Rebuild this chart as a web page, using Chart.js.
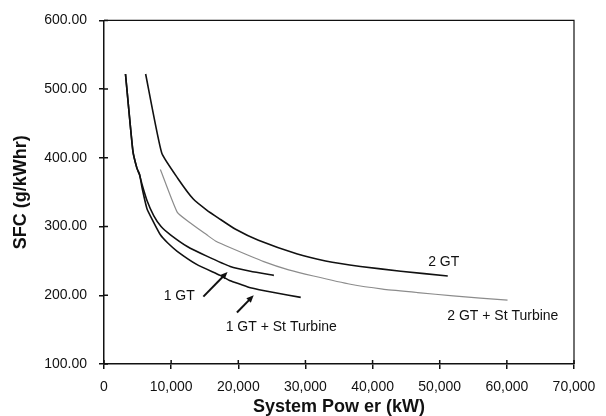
<!DOCTYPE html>
<html>
<head>
<meta charset="utf-8">
<script src="https://cdn.jsdelivr.net/npm/chart.js@4.4.0/dist/chart.umd.min.js"></script>
<style>
  body { margin: 0; background: #fff; }
</style>
</head>
<body>
<canvas id="sfcChart" width="606" height="416"></canvas>
<script>
// curves (kW, g/kWhr)
const gt1X = [3200, 4300, 4900, 5300, 5700, 6400, 7400, 8500, 9900, 12400, 15300, 18800, 21800, 25300]
const gt1Y = [522, 410, 385, 375, 360, 338, 316, 300, 288, 271, 257, 242, 235, 229]

const gt1StX = [3200, 4300, 4900, 5300, 5700, 6400, 7300, 8400, 9500, 10900, 13800, 17300, 18800, 20300, 21800, 25300, 29300]
const gt1StY = [522, 410, 385, 376, 355, 326, 308, 288, 276, 264, 245, 229, 221, 216, 211, 204, 197]

const gt2X = [6200, 8600, 11000, 13300, 15300, 17100, 19600, 23000, 28800, 33000, 38200, 44200, 51200]
const gt2Y = [522, 407, 370, 340, 324, 312, 296, 280, 260, 250, 242, 235, 228]

const gt2StX = [8400, 10900, 12600, 15300, 16600, 19100, 23800, 27500, 31200, 36700, 41500, 46700, 52000, 60100]
const gt2StY = [383, 321, 307, 288, 279, 268, 249, 237, 228, 216, 209, 204, 199, 193]

// curve labels and arrows (data units)
const noteText = ['2 GT', '2 GT + St Turbine', '1 GT', '1 GT + St Turbine']
const noteX = [50600, 59400, 11200, 26400]
const noteY = [248, 170, 199, 153]
const arrowFromX = [14800, 19800]
const arrowFromY = [198, 175]
const arrowToX = [18400, 22300]
const arrowToY = [234, 200]

const FONT = '"Liberation Sans", Arial, Helvetica, sans-serif'

function pts(xs, ys) {
    return xs.map((x, i) => ({ x: x, y: ys[i] }))
}

// box round the plot, inner tick marks, labels and arrows
const extras = {
    id: 'extras',
    afterDraw(chart) {
        const ctx = chart.ctx
        const a = chart.chartArea
        const xs = chart.scales.x
        const ys = chart.scales.y
        ctx.save()
        ctx.strokeStyle = '#111'
        ctx.lineWidth = 1.2
        ctx.beginPath()
        ctx.moveTo(a.left, a.top)
        ctx.lineTo(a.right, a.top)
        ctx.lineTo(a.right, a.bottom)
        ctx.stroke()

        ctx.lineWidth = 1.5
        ctx.beginPath()
        xs.ticks.forEach(t => {
            const px = xs.getPixelForValue(t.value)
            ctx.moveTo(px, a.bottom)
            ctx.lineTo(px, a.bottom - 4)
        })
        ys.ticks.forEach(t => {
            const py = ys.getPixelForValue(t.value)
            ctx.moveTo(a.left, py)
            ctx.lineTo(a.left + 4, py)
        })
        ctx.stroke()

        ctx.fillStyle = '#111'
        ctx.font = '14px ' + FONT
        ctx.textAlign = 'center'
        ctx.textBaseline = 'middle'
        noteText.forEach((t, i) => {
            ctx.fillText(t, xs.getPixelForValue(noteX[i]), ys.getPixelForValue(noteY[i]))
        })

        arrowFromX.forEach((fx, i) => {
            const x1 = xs.getPixelForValue(fx), y1 = ys.getPixelForValue(arrowFromY[i])
            const x2 = xs.getPixelForValue(arrowToX[i]), y2 = ys.getPixelForValue(arrowToY[i])
            const ang = Math.atan2(y2 - y1, x2 - x1)
            ctx.lineWidth = 2
            ctx.beginPath()
            ctx.moveTo(x1, y1)
            ctx.lineTo(x2 - 5 * Math.cos(ang), y2 - 5 * Math.sin(ang))
            ctx.stroke()
            ctx.beginPath()
            ctx.moveTo(x2, y2)
            ctx.lineTo(x2 - 8 * Math.cos(ang - 0.4), y2 - 8 * Math.sin(ang - 0.4))
            ctx.lineTo(x2 - 8 * Math.cos(ang + 0.4), y2 - 8 * Math.sin(ang + 0.4))
            ctx.closePath()
            ctx.fill()
        })
        ctx.restore()
    }
}

const ctx = document.getElementById('sfcChart')
const myChart = new Chart(ctx, {
    type: 'scatter',
    plugins: [extras],
    data: {
        datasets: [
            { label: '1 GT', data: pts(gt1X, gt1Y), borderColor: '#111', borderWidth: 1.6 },
            { label: '1 GT + St Turbine', data: pts(gt1StX, gt1StY), borderColor: '#111', borderWidth: 1.6 },
            { label: '2 GT', data: pts(gt2X, gt2Y), borderColor: '#111', borderWidth: 1.6 },
            { label: '2 GT + St Turbine', data: pts(gt2StX, gt2StY), borderColor: '#8c8c8c', borderWidth: 1.2 }
        ]
    },
    options: {
        responsive: false,
        animation: false,
        devicePixelRatio: 1,
        layout: { padding: { left: 12, right: 32, top: 16, bottom: 0 } },
        elements: {
            line: { tension: 0.15, fill: false },
            point: { radius: 0, hoverRadius: 0 }
        },
        datasets: { scatter: { showLine: true } },
        plugins: {
            legend: { display: false },
            tooltip: { enabled: false }
        },
        scales: {
            x: {
                type: 'linear',
                min: 0,
                max: 70000,
                afterFit: (s) => { s.height = 52 },
                border: { color: '#111', width: 1.5 },
                grid: { drawOnChartArea: false, tickLength: 5, color: '#111', lineWidth: 1.5 },
                ticks: {
                    stepSize: 10000,
                    padding: 10,
                    color: '#111',
                    font: { family: FONT, size: 14 },
                    callback: (v) => v.toLocaleString('en-US')
                },
                title: {
                    display: true,
                    text: 'System Pow er (kW)',
                    color: '#111',
                    font: { family: FONT, size: 18, weight: 'bold', lineHeight: 1 },
                    padding: 0
                }
            },
            y: {
                min: 100,
                max: 600,
                afterFit: (s) => { s.width = 92 },
                border: { color: '#111', width: 1.5 },
                grid: { drawOnChartArea: false, tickLength: 5, color: '#111', lineWidth: 1.5 },
                ticks: {
                    stepSize: 100,
                    padding: 12,
                    color: '#111',
                    font: { family: FONT, size: 14 },
                    callback: (v) => v.toFixed(2)
                },
                title: {
                    display: true,
                    text: 'SFC (g/kWhr)',
                    color: '#111',
                    font: { family: FONT, size: 18, weight: 'bold', lineHeight: 1 },
                    padding: 0
                }
            }
        }
    }
})
</script>
</body>
</html>
